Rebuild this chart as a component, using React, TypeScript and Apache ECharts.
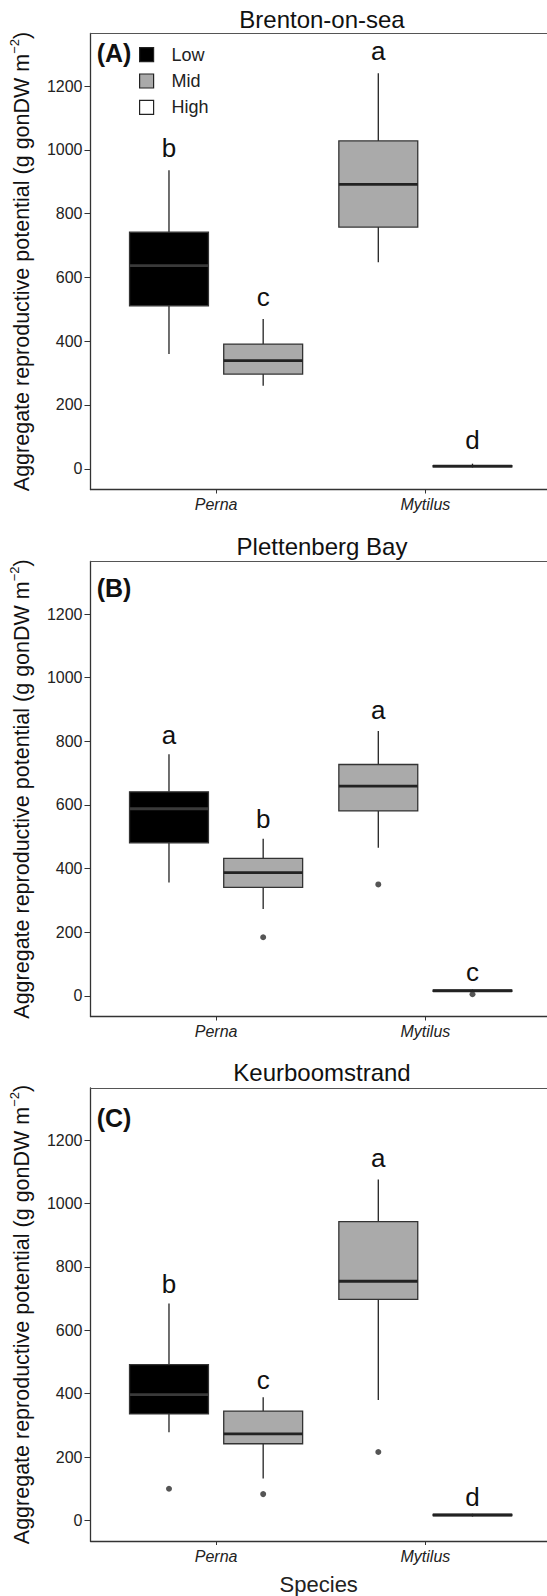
import React, { useEffect, useRef } from 'react';
import * as echarts from 'echarts';

// ---------- data ----------
const SPECIES = ['Perna', 'Mytilus'];
const ZONES = ['Low', 'Mid', 'High'];
const Y_TICKS = [0, 200, 400, 600, 800, 1000, 1200];

// box order inside every panel
const boxSpecies = [0, 0, 1, 1];
const boxZones = ['Low', 'Mid', 'Mid', 'High'];

// [lower whisker, Q1, median, Q3, upper whisker]
const brentonStats = [
  [360, 511, 637, 742, 936],
  [260, 297, 339, 391, 470],
  [648, 758, 892, 1028, 1240],
  [4, 6, 8, 10, 16],
];
const brentonOutliers = [[], [], [], []];
const brentonLetters = ['b', 'c', 'a', 'd'];
const brentonLetterY = [978, 511, 1281, 61];

const plettenbergStats = [
  [356, 481, 588, 641, 759],
  [273, 341, 387, 432, 494],
  [465, 581, 659, 727, 832],
  [12, 14, 16, 18, 20],
];
const plettenbergOutliers = [[], [184], [350], [5]];
const plettenbergLetters = ['a', 'b', 'a', 'c'];
const plettenbergLetterY = [792, 526, 871, 45];

const keurboomStats = [
  [278, 336, 397, 492, 685],
  [132, 242, 273, 345, 389],
  [380, 698, 755, 943, 1076],
  [12, 15, 17, 19, 21],
];
const keurboomOutliers = [[100], [83], [216], []];
const keurboomLetters = ['b', 'c', 'a', 'd'];
const keurboomLetterY = [719, 414, 1116, 46];

// ---------- styling / layout ----------
const FONT = '"Liberation Sans", Arial, Helvetica, sans-serif';
const DODGE = 0.225;
const BOX_W = 0.377;
const LETTER_SIZE = 26;
const FILL: Record<string, string> = { Low: '#000000', Mid: '#aaaaaa', High: '#ffffff' };
const MEDIAN: Record<string, string> = { Low: '#3a3a3a', Mid: '#222222', High: '#222222' };
const LINE = '#222222';

const panels = [
  {
    title: 'Brenton-on-sea', tag: '(A)', stats: brentonStats, outliers: brentonOutliers,
    letters: brentonLetters, letterY: brentonLetterY, top: 33.5, height: 456, titleY: 19.5, tagY: 53, xName: '',
  },
  {
    title: 'Plettenberg Bay', tag: '(B)', stats: plettenbergStats, outliers: plettenbergOutliers,
    letters: plettenbergLetters, letterY: plettenbergLetterY, top: 561.5, height: 455, titleY: 546.6, tagY: 588, xName: '',
  },
  {
    title: 'Keurboomstrand', tag: '(C)', stats: keurboomStats, outliers: keurboomOutliers,
    letters: keurboomLetters, letterY: keurboomLetterY, top: 1088, height: 455.5, titleY: 1072, tagY: 1118, xName: 'Species',
  },
];

const xPos = (i: number) => boxSpecies[i] + 1 + (i % 2 === 0 ? -DODGE : DODGE);

function boxRenderer(zone: string) {
  return (params: any, api: any) => {
    const x = api.value(0);
    const lo = api.coord([x, api.value(1)]);
    const q1 = api.coord([x, api.value(2)]);
    const med = api.coord([x, api.value(3)]);
    const q3 = api.coord([x, api.value(4)]);
    const hi = api.coord([x, api.value(5)]);
    const half = api.size([BOX_W, 0])[0] / 2;
    const cx = lo[0];
    return {
      type: 'group',
      children: [
        { type: 'line', shape: { x1: cx, y1: hi[1], x2: cx, y2: q3[1] }, style: { stroke: LINE, lineWidth: 1.3 } },
        { type: 'line', shape: { x1: cx, y1: q1[1], x2: cx, y2: lo[1] }, style: { stroke: LINE, lineWidth: 1.3 } },
        {
          type: 'rect',
          shape: { x: cx - half, y: q3[1], width: half * 2, height: Math.max(q1[1] - q3[1], 0.5) },
          style: { fill: FILL[zone], stroke: '#333333', lineWidth: 1.3 },
        },
        { type: 'line', shape: { x1: cx - half, y1: med[1], x2: cx + half, y2: med[1] }, style: { stroke: MEDIAN[zone], lineWidth: 2.8 } },
      ],
    };
  };
}

function buildOption() {
  const grid: any[] = [];
  const xAxis: any[] = [];
  const yAxis: any[] = [];
  const series: any[] = [];
  const graphic: any[] = [];

  panels.forEach((p, k) => {
    grid.push({ left: 90, right: 0, top: p.top, height: p.height });
    xAxis.push({
      gridIndex: k, type: 'value', min: 0.4, max: 2.581, position: 'bottom',
      axisLine: { show: true, onZero: false, lineStyle: { color: '#333', width: 1.3 } },
      axisTick: { show: true, length: 4, lineStyle: { color: '#333' }, customValues: [1, 2] },
      axisLabel: {
        customValues: [1, 2], formatter: (v: number) => SPECIES[Math.round(v) - 1] || '',
        fontStyle: 'italic', fontSize: 16, color: '#222', fontFamily: FONT, margin: 7,
      },
      splitLine: { show: false },
      name: p.xName, nameLocation: 'middle', nameGap: 32,
      nameTextStyle: { fontSize: 22, color: '#222', fontFamily: FONT },
    });
    xAxis.push({
      gridIndex: k, type: 'value', min: 0.4, max: 2.581, position: 'top',
      axisLine: { show: true, onZero: false, lineStyle: { color: '#555', width: 1 } },
      axisTick: { show: false }, axisLabel: { show: false }, splitLine: { show: false },
    });
    yAxis.push({
      gridIndex: k, type: 'value', min: -65, max: 1365,
      axisLine: { show: true, onZero: false, lineStyle: { color: '#333', width: 1.3 } },
      axisTick: { show: true, length: 6, lineStyle: { color: '#333' }, customValues: Y_TICKS },
      axisLabel: {
        customValues: Y_TICKS, formatter: (v: number) => String(v),
        fontSize: 16, color: '#222', fontFamily: FONT, margin: 8,
      },
      splitLine: { show: false },
      name: '{a|Aggregate reproductive potential (g gonDW m}{sup|−2}{a|)}',
      nameLocation: 'middle', nameRotate: 90, nameGap: 54,
      nameTextStyle: {
        fontSize: 21.5, color: '#111', fontFamily: FONT, lineHeight: 28,
        rich: {
          a: { fontSize: 21.5, color: '#111', fontFamily: FONT, lineHeight: 28 },
          sup: { fontSize: 13, color: '#111', fontFamily: FONT, verticalAlign: 'top', lineHeight: 14 },
        },
      },
    });

    ZONES.forEach((zone) => {
      const idx = boxZones.map((z, i) => (z === zone ? i : -1)).filter((i) => i >= 0);
      series.push({
        type: 'custom', name: zone, xAxisIndex: 2 * k, yAxisIndex: k,
        data: idx.map((i) => [xPos(i), ...p.stats[i]]),
        encode: { x: 0, y: [1, 2, 3, 4, 5] },
        itemStyle: { color: FILL[zone], borderColor: '#333', borderWidth: 1 },
        renderItem: boxRenderer(zone), silent: true, z: 2,
      });
    });

    const outlierData: number[][] = [];
    p.outliers.forEach((arr, i) => arr.forEach((v) => outlierData.push([xPos(i), v])));
    series.push({
      type: 'scatter', xAxisIndex: 2 * k, yAxisIndex: k, data: outlierData,
      symbol: 'circle', symbolSize: 6, itemStyle: { color: '#2a2a2a' }, silent: true, z: 3,
    });

    const letters = p.letters;
    series.push({
      type: 'custom', xAxisIndex: 2 * k, yAxisIndex: k,
      data: p.letterY.map((v, i) => [xPos(i), v]),
      encode: { x: 0, y: 1 },
      silent: true, z: 4,
      renderItem: (params: any, api: any) => {
        const pt = api.coord([api.value(0), api.value(1)]);
        return {
          type: 'text',
          x: pt[0], y: pt[1] - 0.3465 * LETTER_SIZE,
          style: {
            text: letters[params.dataIndex], fontSize: LETTER_SIZE, fontFamily: FONT, fill: '#111',
            align: 'center', verticalAlign: 'middle',
          },
        };
      },
    });

    graphic.push({
      type: 'text', x: 322, y: p.titleY,
      style: { text: p.title, fontSize: 24, fontFamily: FONT, fill: '#111', align: 'center', verticalAlign: 'middle' },
    });
    graphic.push({
      type: 'text', x: 114, y: p.tagY,
      style: { text: p.tag, fontSize: 25, fontWeight: 'bold', fontFamily: FONT, fill: '#111', align: 'center', verticalAlign: 'middle' },
    });
  });

  return {
    animation: false,
    backgroundColor: '#ffffff',
    grid, xAxis, yAxis, series, graphic,
    legend: {
      orient: 'vertical', left: 139, top: 45.7, padding: 0,
      itemWidth: 14, itemHeight: 14, itemGap: 8.3, icon: 'rect', selectedMode: false,
      textStyle: { fontSize: 18, color: '#222', fontFamily: FONT, lineHeight: 14, padding: [0, 0, 0, 13] },
      data: ZONES.map((z) => ({ name: z, itemStyle: { color: FILL[z], borderColor: '#222', borderWidth: 1.2 } })),
    },
  };
}

export default function App() {
  const ref = useRef<HTMLDivElement>(null);
  useEffect(() => {
    document.body.style.margin = '0';
    const chart = echarts.init(ref.current!, null, { renderer: 'svg' });
    chart.setOption(buildOption() as any);
    return () => chart.dispose();
  }, []);
  return <div ref={ref} style={{ width: 547, height: 1596 }} />;
}
